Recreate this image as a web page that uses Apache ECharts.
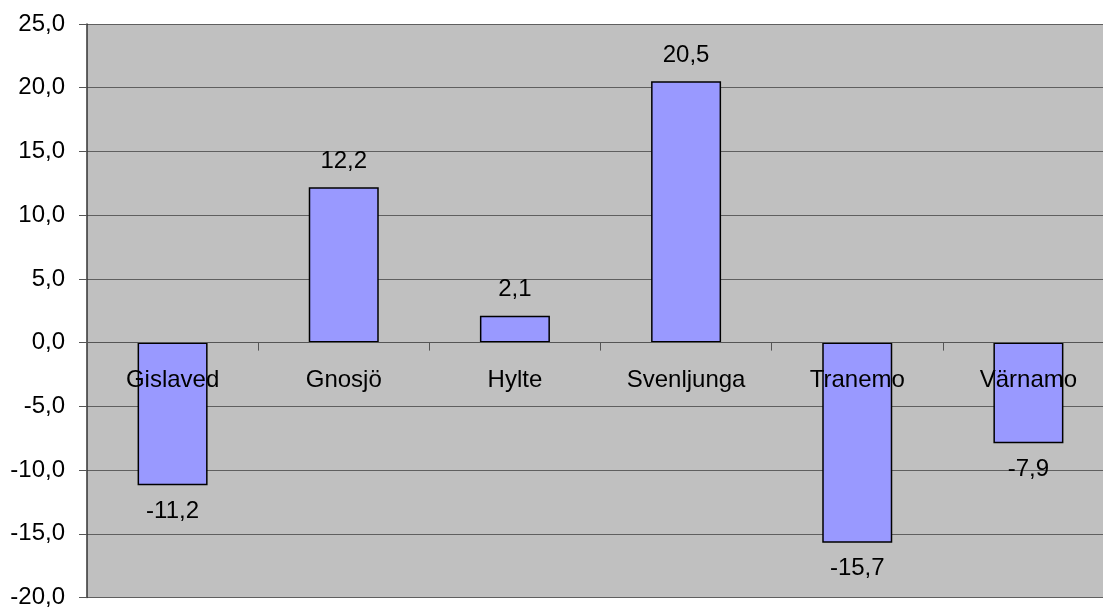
<!DOCTYPE html>
<html>
<head>
<meta charset="utf-8">
<script src="https://cdn.jsdelivr.net/npm/echarts@6/dist/echarts.min.js"></script>
<style>html,body{margin:0;padding:0;background:#fff;}#c{width:1103px;height:608px;}</style>
</head>
<body>
<div id="c"></div>
<script>
const categories = ['Gislaved', 'Gnosjö', 'Hylte', 'Svenljunga', 'Tranemo', 'Värnamo'];
const values = [-11.2, 12.2, 2.1, 20.5, -15.7, -7.9];
const yMin = -20, yMax = 25, yStep = 5;

const fmt = v => v.toFixed(1).replace('.', ',');
const FONT = 'Liberation Sans, Arial, sans-serif';
const chart = echarts.init(document.getElementById('c'), null, {renderer: 'canvas'});
chart.setOption({
  animation: false,
  textStyle: {fontFamily: FONT},
  grid: {left: 87, top: 24, width: 1027, bottom: 10.5, show: true, backgroundColor: '#C0C0C0', borderWidth: 0, outerBoundsMode: 'none', containLabel: false},
  xAxis: {
    type: 'category',
    data: categories,
    position: 'bottom',
    offset: 0,
    z: 10,
    axisLine: {onZero: false, lineStyle: {color: '#555', width: 1}},
    axisTick: {show: true, length: 8, lineStyle: {color: '#555'}},
    axisLabel: {color: '#000', fontSize: 24, margin: 26, fontFamily: FONT},
    splitLine: {show: false}
  },
  yAxis: {
    type: 'value',
    min: yMin, max: yMax, interval: yStep,
    axisLine: {show: true, lineStyle: {color: '#333', width: 1.5}},
    axisTick: {show: true, length: 8, lineStyle: {color: '#555'}},
    axisLabel: {color: '#000', fontSize: 24, margin: 22, formatter: v => fmt(v), fontFamily: FONT},
    splitLine: {show: true, lineStyle: {color: '#5f5f5f', width: 1.2}}
  },
  series: [{
    type: 'bar',
    data: values.map(v => ({value: v, label: {position: v < 0 ? 'bottom' : 'top'}})),
    barWidth: 70,
    itemStyle: {color: '#9999FF', borderColor: '#000', borderWidth: 1.5},
    label: {
      show: true,
      color: '#000',
      fontSize: 24,
      distance: 14,
      fontFamily: FONT,
      formatter: p => fmt(p.value)
    }
  }]
});
// place the category axis on the zero line (labels follow it)
const yZero = chart.convertToPixel({yAxisIndex: 0}, 0);
const yBottom = chart.convertToPixel({yAxisIndex: 0}, yMin);
chart.setOption({xAxis: {offset: yZero - yBottom}});
</script>
</body>
</html>
